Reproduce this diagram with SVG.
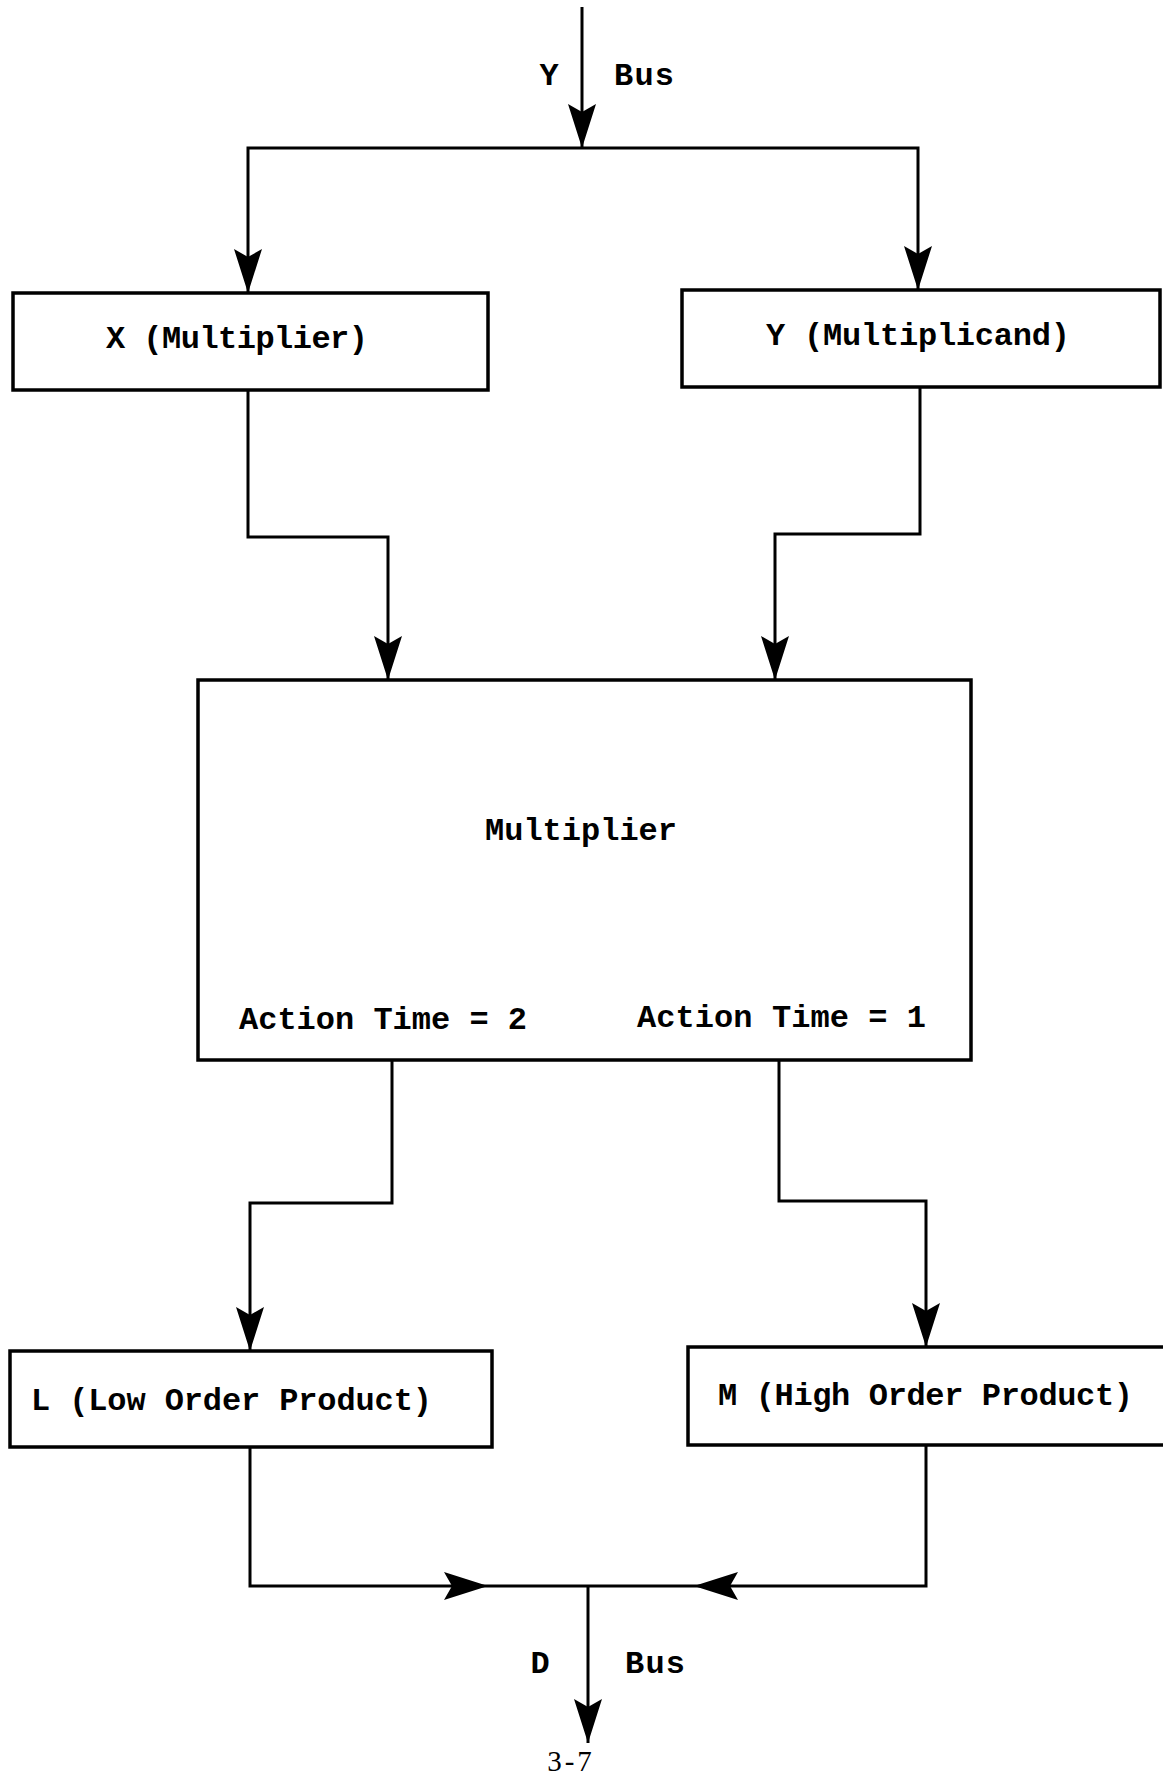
<svg xmlns="http://www.w3.org/2000/svg" width="1163" height="1780" viewBox="0 0 1163 1780">
<style>
.box{fill:#fff;stroke:#000;stroke-width:3.5}
.ln{fill:none;stroke:#000;stroke-width:3}
.t{font-family:"Liberation Mono","DejaVu Sans Mono",monospace;font-weight:bold;font-size:32px;fill:#000}
.p{font-family:"Liberation Serif","Times New Roman",serif;font-size:29px;fill:#000}
</style>
<defs>
<marker id="ah" markerUnits="userSpaceOnUse" markerWidth="50" markerHeight="32" refX="44" refY="15" orient="auto" viewBox="0 0 50 32">
<path d="M44,15 L0,1 L8,15 L0,29 Z" fill="#000"/>
</marker>
</defs>
<rect width="1163" height="1780" fill="#fff"/>
<g id="connectors">
<path class="ln" d="M582,7 V148" marker-end="url(#ah)"/>
<path class="ln" d="M582,148 H248 V293" marker-end="url(#ah)"/>
<path class="ln" d="M582,148 H918 V290" marker-end="url(#ah)"/>
<path class="ln" d="M248,390 V537 H388 V680" marker-end="url(#ah)"/>
<path class="ln" d="M920,387 V534 H775 V680" marker-end="url(#ah)"/>
<path class="ln" d="M392,1060 V1203 H250 V1351" marker-end="url(#ah)"/>
<path class="ln" d="M779,1060 V1201 H926 V1347" marker-end="url(#ah)"/>
<path class="ln" d="M250,1447 V1586 H488" marker-end="url(#ah)"/>
<path class="ln" d="M926,1445 V1586 H694" marker-end="url(#ah)"/>
<path class="ln" d="M488,1586 H694"/>
<path class="ln" d="M588,1586 V1743" marker-end="url(#ah)"/>
<text class="t" x="549" y="85" text-anchor="middle">Y</text>
<text class="t" x="614" y="85" textLength="60">Bus</text>
<text class="t" x="540" y="1673" text-anchor="middle">D</text>
<text class="t" x="625" y="1673" textLength="60">Bus</text>
</g>
<g id="node-x">
<rect class="box" x="13" y="293" width="475" height="97"/>
<text class="t" x="106" y="348" textLength="262">X (Multiplier)</text>
</g>
<g id="node-y">
<rect class="box" x="682" y="290" width="478" height="97"/>
<text class="t" x="766" y="345" textLength="304">Y (Multiplicand)</text>
</g>
<g id="node-mult">
<rect class="box" x="198" y="680" width="773" height="380"/>
<text class="t" x="581" y="840" text-anchor="middle">Multiplier</text>
<text class="t" x="239" y="1029" textLength="288">Action Time = 2</text>
<text class="t" x="637" y="1027" textLength="289">Action Time = 1</text>
</g>
<g id="node-l">
<rect class="box" x="10" y="1351" width="482" height="96"/>
<text class="t" x="31" y="1410" textLength="401">L (Low Order Product)</text>
</g>
<g id="node-m">
<rect class="box" x="688" y="1347" width="480" height="98"/>
<text class="t" x="718" y="1405" textLength="415">M (High Order Product)</text>
</g>
<text class="p" x="571" y="1771" text-anchor="middle" letter-spacing="3">3-7</text>
</svg>
